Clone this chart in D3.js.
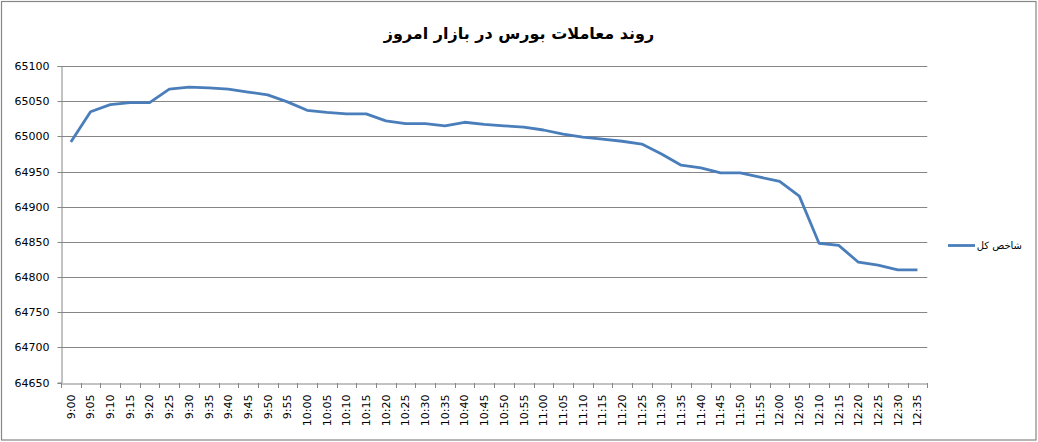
<!DOCTYPE html>
<html><head><meta charset="utf-8">
<script src="https://cdn.jsdelivr.net/npm/d3@7"></script>
<style>body{margin:0;background:#fff}svg{display:block}</style>
</head><body>
<svg id="c" width="1038" height="442"></svg>
<script>
const categories = ["9:00","9:05","9:10","9:15","9:20","9:25","9:30","9:35","9:40","9:45","9:50","9:55",
"10:00","10:05","10:10","10:15","10:20","10:25","10:30","10:35","10:40","10:45","10:50","10:55",
"11:00","11:05","11:10","11:15","11:20","11:25","11:30","11:35","11:40","11:45","11:50","11:55",
"12:00","12:05","12:10","12:15","12:20","12:25","12:30","12:35"];
const values = [64992,65035,65045,65048,65048,65067,65070,65069,65067,65063,65059,65049,
65037,65034,65032,65032,65022,65018,65018,65015,65020,65017,65015,65013,
65009,65003,64999,64996,64993,64989,64975,64959,64955,64948,64948,64942,
64936,64915,64848,64845,64821,64817,64810,64810];
const yTicks = [64650,64700,64750,64800,64850,64900,64950,65000,65050,65100];
const title = "روند معاملات بورس در بازار امروز";
const seriesName = "شاخص کل";

const svg = d3.select("#c");
const L = 61, R = 927.3, T = 66, B = 382.5;
const x = d3.scaleBand().domain(categories).range([L, R]);
const y = d3.scaleLinear().domain([64650, 65100]).range([B, T]);
const grey = "#868686";
const font = "'DejaVu Sans', Verdana, sans-serif";

// chart border
svg.append("rect").attr("x",1.5).attr("y",1.5).attr("width",1034.5).attr("height",438.5)
  .attr("fill","none").attr("stroke",grey).attr("stroke-width",1.2);

// title
svg.append("text").attr("x",519).attr("y",39).attr("text-anchor","middle")
  .attr("font-family",font).attr("font-weight","bold").attr("font-size",16)
  .attr("fill","#000").text(title);

// gridlines
svg.append("g").selectAll("line").data(yTicks.filter(d=>d!==64650)).join("line")
  .attr("x1",L).attr("x2",R).attr("y1",d=>Math.round(y(d))+0.5).attr("y2",d=>Math.round(y(d))+0.5)
  .attr("stroke",grey).attr("stroke-width",1);

// y axis
const ya = svg.append("g").attr("transform",`translate(${L+0.5},0)`)
  .call(d3.axisLeft(y).tickValues(yTicks).tickFormat(d3.format("d")).tickSize(4).tickPadding(8));
ya.select(".domain").attr("stroke",grey);
ya.selectAll(".tick line").attr("stroke",grey);
ya.selectAll(".tick").attr("transform",d=>`translate(0,${Math.round(y(d))+0.5})`);
ya.selectAll("text").attr("font-family",font).attr("font-size",11).attr("fill","#000");

// x axis
const xa = svg.append("g").attr("transform",`translate(0,${Math.round(B)+0.5})`)
  .call(d3.axisBottom(x).tickSize(0).tickPadding(0));
xa.select(".domain").attr("stroke",grey);
xa.selectAll(".tick text").attr("font-family",font).attr("font-size",11).attr("fill","#000")
  .attr("text-anchor","end").attr("dy","0.35em")
  .attr("transform","translate(0,11) rotate(-90)").attr("x",0).attr("y",0);
// boundary tick marks
svg.append("g").selectAll("line").data(d3.range(categories.length+1)).join("line")
  .attr("x1",i=>Math.round(L + i*x.step())+0.5).attr("x2",i=>Math.round(L + i*x.step())+0.5)
  .attr("y1",Math.round(B)).attr("y2",Math.round(B)+5).attr("stroke",grey);

// line
const line = d3.line().x((d,i)=>x(categories[i])+x.bandwidth()/2).y(d=>y(d));
svg.append("path").datum(values).attr("d",line).attr("fill","none")
  .attr("stroke","#4a7ebb").attr("stroke-width",2.8).attr("stroke-linejoin","round");

// legend
svg.append("line").attr("x1",948).attr("x2",975).attr("y1",245.5).attr("y2",245.5)
  .attr("stroke","#4a7ebb").attr("stroke-width",2.8);
svg.append("text").attr("x",1022).attr("y",249).attr("text-anchor","end")
  .attr("font-family",font).attr("font-size",10).attr("fill","#000").text(seriesName);
</script>
</body></html>
